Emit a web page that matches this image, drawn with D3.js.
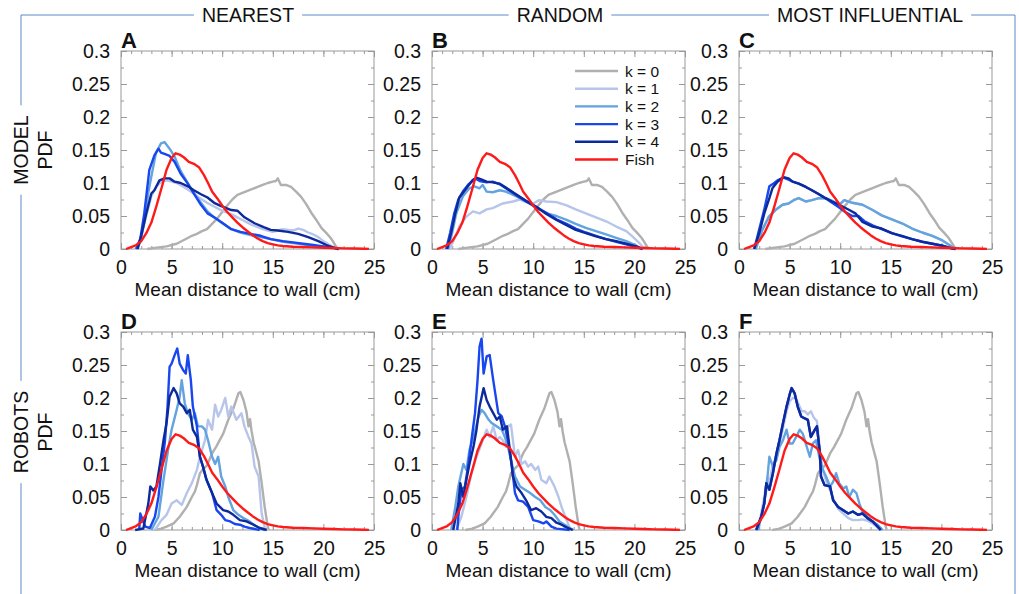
<!DOCTYPE html>
<html>
<head>
<meta charset="utf-8">
<script src="https://cdn.jsdelivr.net/npm/d3@7"></script>
<style>
  body { margin: 0; background: #fff; }
  svg { display: block; }
  text { font-family: "Liberation Sans", Arial, Helvetica, sans-serif; fill: #111; }
</style>
</head>
<body>
<svg id="fig" width="1019" height="594"></svg>
<script>
// ---- data: [distance (cm), pdf] ----
const fishPdf = [[0.5,0],[1,0.003],[1.5,0.006],[2,0.012],[2.5,0.024],[3,0.04],[3.5,0.065],[4,0.092],[4.5,0.12],[5,0.138],[5.4,0.145],[5.8,0.143],[6.2,0.139],[6.7,0.132],[7.2,0.129],[7.7,0.124],[8.2,0.112],[8.6,0.1],[9,0.087],[9.5,0.077],[10,0.066],[10.5,0.056],[11,0.048],[11.5,0.04],[12,0.033],[12.5,0.027],[13,0.021],[13.5,0.016],[14,0.012],[14.5,0.009],[15,0.007],[15.5,0.0055],[16,0.0045],[17,0.0035],[18,0.003],[19,0.0025],[20,0.002],[21,0.0015],[22,0.001],[23,0.0007],[24,0.0004],[24.5,0.0002]];

const modelK0 = [[2.6,0],[3.5,0.002],[4.5,0.004],[5.5,0.008],[6.5,0.016],[7,0.02],[7.5,0.023],[8,0.027],[8.5,0.03],[9,0.038],[9.5,0.046],[10,0.056],[10.5,0.066],[11,0.075],[11.5,0.082],[12,0.085],[12.5,0.088],[13,0.091],[13.5,0.094],[14,0.097],[14.5,0.1],[15,0.102],[15.3,0.103],[15.5,0.107],[15.8,0.097],[16.3,0.097],[16.8,0.094],[17.3,0.087],[17.8,0.079],[18.3,0.068],[18.8,0.055],[19.3,0.044],[19.8,0.032],[20.3,0.024],[20.7,0.017],[21,0.01],[21.4,0]];

const nearestModelK1 = [[1.5,0],[2,0.02],[2.5,0.05],[3,0.08],[3.5,0.095],[4,0.102],[4.5,0.104],[5,0.102],[5.5,0.1],[6,0.096],[6.5,0.091],[7,0.086],[7.5,0.08],[8,0.075],[8.5,0.07],[9,0.066],[9.5,0.062],[10,0.058],[10.5,0.055],[11,0.052],[11.5,0.048],[12,0.044],[12.5,0.04],[13,0.036],[13.5,0.033],[14,0.03],[14.5,0.028],[15,0.026],[15.5,0.028],[16,0.03],[16.5,0.029],[17,0.028],[17.5,0.031],[18,0.029],[18.5,0.025],[19,0.022],[19.5,0.018],[20,0.012],[20.5,0.007],[21,0.003],[21.5,0]];
const nearestModelK2 = [[1.5,0],[1.9,0.01],[2.3,0.04],[2.7,0.085],[3,0.11],[3.45,0.145],[3.95,0.16],[4.3,0.162],[4.8,0.152],[5.3,0.14],[5.9,0.118],[6.6,0.1],[7.2,0.085],[7.9,0.07],[8.55,0.057],[9.2,0.048],[9.9,0.04],[10.9,0.03],[11.8,0.025],[12.8,0.021],[13.8,0.018],[14.8,0.015],[16,0.011],[17,0.009],[18,0.007],[19,0.005],[20,0.003],[21,0.001],[21.5,0]];
const nearestModelK3 = [[1.5,0],[1.9,0.015],[2.3,0.054],[2.8,0.12],[3.3,0.142],[3.7,0.152],[3.95,0.146],[4.3,0.144],[4.8,0.141],[5.3,0.132],[5.9,0.114],[6.6,0.099],[7.2,0.084],[7.9,0.067],[8.55,0.054],[9.2,0.048],[9.9,0.041],[10.9,0.03],[11.8,0.026],[12.8,0.023],[13.8,0.02],[14.8,0.015],[16,0.012],[17,0.01],[18,0.008],[19,0.006],[20,0.004],[21,0.002],[21.5,0]];
const nearestModelK4 = [[1.65,0],[2,0.02],[2.5,0.054],[3,0.084],[3.3,0.089],[3.8,0.104],[4.3,0.107],[4.8,0.107],[5.3,0.102],[5.9,0.1],[6.6,0.095],[7.2,0.089],[7.9,0.083],[8.55,0.078],[9.2,0.07],[9.9,0.065],[10.9,0.059],[11.5,0.058],[12.2,0.048],[13.2,0.039],[14.1,0.033],[14.8,0.029],[15.5,0.028],[16.5,0.026],[17.5,0.023],[18.5,0.018],[19.5,0.012],[20.3,0.006],[21,0.002],[21.5,0]];

const randomModelK1 = [[1.75,0],[2.2,0.015],[2.7,0.034],[3.4,0.049],[4.05,0.057],[4.7,0.054],[5.4,0.06],[6,0.062],[7,0.069],[8,0.072],[8.65,0.075],[9.3,0.071],[10,0.069],[10.6,0.074],[11.3,0.072],[12.3,0.071],[13.3,0.066],[14.2,0.06],[15.2,0.054],[16.2,0.048],[17.2,0.042],[18.2,0.034],[19.2,0.027],[19.8,0.019],[20.5,0.009],[21,0]];
const randomModelK2 = [[1.6,0],[2,0.025],[2.4,0.054],[3.05,0.08],[3.7,0.092],[4.2,0.095],[4.7,0.092],[5,0.097],[5.4,0.087],[6,0.086],[6.7,0.089],[7.3,0.087],[8.3,0.08],[9.3,0.072],[10.3,0.064],[11.3,0.054],[12.3,0.05],[13.3,0.044],[14.2,0.038],[15.2,0.032],[16.2,0.027],[17.2,0.022],[18.2,0.017],[19.2,0.012],[20.2,0.005],[20.8,0]];
const randomModelK3 = [[1.4,0],[1.8,0.025],[2.2,0.054],[2.6,0.075],[3.05,0.087],[3.55,0.097],[4.05,0.104],[4.4,0.106],[4.7,0.103],[5.4,0.101],[6,0.102],[6.7,0.098],[7.3,0.092],[8.3,0.082],[9.3,0.072],[10.3,0.063],[11.3,0.055],[12.3,0.045],[13.3,0.038],[14.2,0.031],[15.2,0.025],[16.2,0.02],[17.2,0.015],[18.2,0.011],[19.2,0.007],[20.2,0.003],[20.8,0]];
const randomModelK4 = [[1.5,0],[1.9,0.025],[2.3,0.054],[2.7,0.078],[3.05,0.085],[3.55,0.095],[4.05,0.105],[4.4,0.108],[4.8,0.106],[5.4,0.102],[6,0.101],[6.7,0.099],[7.3,0.093],[8.3,0.083],[9.3,0.073],[10.3,0.064],[11.3,0.053],[12.3,0.044],[13.3,0.036],[14.2,0.029],[15.2,0.024],[16.2,0.019],[17.2,0.015],[18.2,0.012],[19.2,0.008],[20.2,0.004],[20.8,0]];

const influentialModelK2 = [[1.65,0],[2.3,0.029],[2.96,0.049],[3.6,0.059],[4.3,0.067],[4.9,0.069],[5.4,0.074],[5.9,0.077],[6.6,0.072],[7.2,0.074],[7.9,0.077],[8.55,0.077],[9.2,0.073],[9.9,0.067],[10.4,0.074],[11.2,0.07],[12.2,0.067],[13.2,0.059],[14.1,0.051],[15.1,0.045],[16.1,0.039],[17.1,0.031],[18.1,0.025],[19.1,0.02],[20.1,0.013],[20.9,0.005],[21.4,0]];
const influentialModelK3 = [[1.5,0],[2,0.03],[2.5,0.06],[3,0.095],[3.3,0.098],[3.8,0.104],[4.4,0.108],[4.9,0.105],[5.3,0.102],[5.9,0.099],[6.6,0.094],[7.2,0.089],[7.9,0.083],[8.55,0.077],[9.2,0.07],[9.9,0.063],[10.5,0.056],[11.2,0.05],[11.8,0.05],[12.4,0.042],[13.2,0.036],[14.1,0.03],[15.1,0.024],[16.1,0.019],[17.1,0.015],[18.1,0.011],[19.1,0.008],[20.1,0.005],[21,0.001],[21.4,0]];
const influentialModelK4 = [[1.5,0],[2,0.024],[2.5,0.054],[3,0.077],[3.3,0.092],[3.8,0.102],[4.4,0.109],[4.9,0.107],[5.3,0.102],[5.9,0.099],[6.6,0.094],[7.2,0.089],[7.9,0.083],[8.55,0.077],[9.2,0.072],[9.9,0.067],[10.9,0.059],[11.5,0.054],[12.2,0.041],[13.2,0.034],[14.1,0.031],[15.1,0.024],[16.1,0.02],[17.1,0.015],[18.1,0.011],[19.1,0.008],[20.1,0.005],[21,0.001],[21.4,0]];

const robotK0 = [[3.3,0],[4,0.002],[4.5,0.005],[5.2,0.01],[5.8,0.02],[6.5,0.035],[7,0.05],[7.3,0.058],[7.5,0.068],[7.8,0.086],[8.1,0.092],[8.5,0.098],[9,0.116],[9.4,0.126],[10.1,0.146],[10.6,0.167],[11.1,0.184],[11.6,0.207],[11.8,0.209],[12.1,0.197],[12.4,0.179],[12.6,0.157],[12.75,0.168],[12.9,0.15],[13.1,0.133],[13.6,0.104],[13.9,0.071],[14.2,0.035],[14.5,0.005],[14.6,0]];

const nearestRobotK1 = [[3.35,0],[4,0.015],[4.5,0.023],[5,0.04],[5.5,0.045],[6,0.038],[6.5,0.056],[7,0.071],[7.5,0.091],[7.8,0.111],[8.3,0.136],[8.6,0.167],[9,0.152],[9.3,0.19],[9.6,0.172],[9.9,0.182],[10.3,0.2],[10.6,0.172],[10.9,0.187],[11.4,0.167],[11.9,0.177],[12.2,0.157],[12.6,0.141],[12.9,0.131],[13.2,0.096],[13.6,0.081],[13.9,0.025],[14.2,0.004],[14.4,0]];
const nearestRobotK2 = [[3.0,0],[3.7,0.02],[4.2,0.076],[4.7,0.126],[5,0.152],[5.5,0.182],[5.8,0.202],[6,0.227],[6.3,0.192],[6.6,0.177],[7,0.167],[7.3,0.177],[7.6,0.157],[8,0.157],[8.3,0.152],[8.6,0.136],[9,0.111],[9.3,0.1],[9.6,0.111],[9.9,0.081],[10.3,0.066],[10.6,0.05],[11.1,0.03],[11.6,0.023],[12.1,0.018],[12.7,0.013],[13.4,0.005],[14,0.001],[14.2,0]];
const nearestRobotK3 = [[1.8,0],[1.9,0.025],[2.4,0.005],[2.85,0.003],[3.35,0.02],[3.7,0.05],[4,0.09],[4.35,0.136],[4.6,0.187],[4.8,0.247],[5,0.252],[5.3,0.265],[5.56,0.275],[5.8,0.252],[6.15,0.242],[6.4,0.237],[6.6,0.265],[6.9,0.227],[7.1,0.187],[7.5,0.157],[7.8,0.111],[8.1,0.096],[8.45,0.076],[9,0.056],[9.45,0.03],[9.9,0.023],[10.3,0.015],[10.8,0.013],[11.25,0.009],[11.75,0.008],[12.2,0.005],[12.7,0.003],[13.4,0.001],[13.7,0]];
const nearestRobotK4 = [[1.4,0],[2.2,0.002],[2.7,0.04],[2.9,0.066],[3.2,0.06],[3.5,0.066],[3.85,0.1],[4.2,0.136],[4.5,0.162],[4.8,0.202],[5.2,0.215],[5.5,0.207],[5.8,0.192],[6.15,0.187],[6.5,0.177],[6.8,0.182],[7.1,0.152],[7.5,0.141],[7.8,0.111],[8.1,0.096],[8.45,0.076],[9,0.056],[9.45,0.04],[10.1,0.03],[10.6,0.028],[11.1,0.023],[11.75,0.015],[12.4,0.013],[13.1,0.008],[13.7,0.003],[14.4,0]];

const randomRobotK1 = [[2.4,0],[2.9,0.02],[3.4,0.05],[3.9,0.086],[4.4,0.111],[4.9,0.131],[5.4,0.152],[5.7,0.141],[6.05,0.157],[6.4,0.136],[6.7,0.141],[7,0.136],[7.3,0.126],[7.5,0.157],[7.8,0.16],[8.2,0.111],[8.5,0.121],[8.85,0.1],[9.2,0.104],[9.5,0.096],[9.8,0.1],[10.2,0.091],[10.5,0.096],[10.8,0.076],[11.3,0.071],[11.6,0.081],[12.1,0.066],[12.5,0.05],[12.8,0.035],[13.3,0.015],[13.6,0.004],[13.8,0]];
const randomRobotK2 = [[1.9,0],[2.3,0.035],[2.6,0.066],[3.1,0.1],[3.4,0.091],[3.7,0.121],[4.1,0.141],[4.6,0.172],[4.9,0.182],[5.2,0.177],[5.6,0.167],[5.9,0.162],[6.4,0.157],[6.9,0.152],[7.2,0.141],[7.5,0.126],[7.9,0.1],[8.2,0.081],[8.7,0.066],[9.2,0.061],[9.7,0.056],[10.2,0.05],[10.7,0.045],[11.2,0.035],[11.7,0.03],[12.1,0.023],[12.6,0.013],[13.1,0.008],[13.6,0.003],[14,0]];
const randomRobotK3 = [[2.5,0],[2.6,0.02],[2.9,0.06],[3.25,0.066],[3.6,0.1],[3.9,0.136],[4.25,0.177],[4.5,0.227],[4.7,0.278],[4.9,0.29],[5.1,0.237],[5.4,0.263],[5.7,0.265],[6.05,0.227],[6.3,0.202],[6.55,0.177],[6.9,0.172],[7.2,0.157],[7.5,0.136],[7.9,0.096],[8.2,0.056],[8.5,0.045],[9,0.043],[9.5,0.035],[10,0.015],[10.5,0.013],[11,0.01],[11.3,0.013],[11.8,0.005],[12.3,0.002],[13,0.001],[13.6,0]];
const randomRobotK4 = [[2.1,0],[2.6,0.04],[2.8,0.071],[3.1,0.05],[3.4,0.076],[3.7,0.1],[4.1,0.126],[4.4,0.152],[4.7,0.187],[5.1,0.215],[5.4,0.197],[5.7,0.187],[6.05,0.177],[6.4,0.167],[6.7,0.172],[7,0.152],[7.4,0.157],[7.7,0.121],[8,0.081],[8.35,0.066],[8.85,0.056],[9.3,0.045],[9.8,0.03],[10.3,0.033],[10.8,0.028],[11.3,0.02],[11.8,0.018],[12.3,0.011],[12.8,0.008],[13.3,0.004],[13.9,0]];

const influentialRobotK1 = [[1.8,0],[2.2,0.025],[2.5,0.05],[2.8,0.08],[3,0.07],[3.35,0.1],[3.7,0.11],[4,0.13],[4.35,0.155],[4.7,0.18],[5,0.195],[5.3,0.2],[5.6,0.2],[5.9,0.19],[6.2,0.18],[6.5,0.18],[6.8,0.175],[7.1,0.18],[7.4,0.17],[7.7,0.165],[8,0.12],[8.3,0.09],[8.6,0.075],[9,0.06],[9.4,0.045],[9.8,0.032],[10.3,0.025],[10.8,0.018],[11.25,0.015],[11.75,0.015],[12.2,0.016],[12.7,0.014],[13.2,0.01],[13.7,0.004],[14,0]];
const influentialRobotK2 = [[1.9,0],[2.4,0.035],[2.7,0.061],[3,0.111],[3.35,0.096],[3.7,0.106],[4,0.126],[4.35,0.136],[4.7,0.152],[5,0.131],[5.3,0.131],[5.65,0.141],[6,0.152],[6.3,0.146],[6.6,0.131],[7,0.111],[7.3,0.131],[7.6,0.136],[8,0.106],[8.3,0.091],[8.6,0.081],[9,0.066],[9.3,0.073],[9.6,0.086],[9.9,0.071],[10.3,0.063],[10.6,0.066],[10.9,0.05],[11.25,0.061],[11.6,0.056],[11.9,0.04],[12.2,0.028],[12.7,0.02],[13.2,0.013],[13.7,0.008],[14.2,0]];
const influentialRobotK4 = [[1.7,0],[2.2,0.02],[2.5,0.04],[2.7,0.071],[3,0.061],[3.35,0.086],[3.7,0.116],[4,0.136],[4.35,0.162],[4.7,0.187],[5,0.205],[5.2,0.215],[5.5,0.207],[5.8,0.187],[6.15,0.172],[6.5,0.169],[6.8,0.167],[7.1,0.141],[7.5,0.152],[7.7,0.157],[8,0.116],[8.1,0.081],[8.45,0.068],[9,0.066],[9.3,0.045],[9.8,0.035],[10.3,0.03],[10.8,0.025],[11.25,0.028],[11.75,0.023],[12.2,0.025],[12.7,0.018],[13.2,0.013],[13.7,0.005],[14,0]];

const columnTitles = ["NEAREST", "RANDOM", "MOST INFLUENTIAL"];
const rowTitles = ["MODEL", "ROBOTS"];
const panelLetters = ["A", "B", "C", "D", "E", "F"];
const seriesNames = ["k = 0", "k = 1", "k = 2", "k = 3", "k = 4", "Fish"];
const xTicks = [0, 5, 10, 15, 20, 25];
const yTicks = [0, 0.05, 0.1, 0.15, 0.2, 0.25, 0.3];

// series per panel, in the order k=0..k=4, fish
const panelSeries = [
  [modelK0, nearestModelK1, nearestModelK2, nearestModelK3, nearestModelK4, fishPdf],
  [modelK0, randomModelK1, randomModelK2, randomModelK3, randomModelK4, fishPdf],
  [modelK0, influentialModelK2, influentialModelK2, influentialModelK3, influentialModelK4, fishPdf],
  [robotK0, nearestRobotK1, nearestRobotK2, nearestRobotK3, nearestRobotK4, fishPdf],
  [robotK0, randomRobotK1, randomRobotK2, randomRobotK3, randomRobotK4, fishPdf],
  [robotK0, influentialRobotK1, influentialRobotK2, influentialRobotK4, influentialRobotK4, fishPdf]
];

// ---- styles / layout ----
const colors = ["#b0b0b0", "#b7c5ea", "#62a3e0", "#1846ef", "#0d2a9c", "#ff1a1a"];
const frameColor = "#999";
const boxColor = "#5a89c4";
const W = 253, H = 198;
const colX = [121, 432, 739];
const rowY = [51, 332];
const titleX = [248, 560, 870];

const svg = d3.select("#fig");
const x = d3.scaleLinear().domain([0, 25]).range([0, W]);
const y = d3.scaleLinear().domain([0, 0.3]).range([H, 0]);
const line = d3.line().x(d => x(d[0])).y(d => y(d[1]));

const fmtY = d => d === 0 ? "0" : String(+d.toFixed(2));

panelSeries.forEach((series, p) => {
  const col = p % 3, row = Math.floor(p / 3);
  const g = svg.append("g").attr("transform", `translate(${colX[col]},${rowY[row]})`);

  // minor and major ticks on all four sides, pointing inward
  const ax = [
    [d3.axisBottom, x, `translate(0,${H})`],
    [d3.axisTop, x, "translate(0,0)"],
    [d3.axisLeft, y, "translate(0,0)"],
    [d3.axisRight, y, `translate(${W},0)`]
  ];
  ax.forEach(([fn, sc, tr], i) => {
    const minor = sc === x ? d3.range(0, 26, 1) : d3.range(0, 0.3001, 0.025);
    g.append("g").attr("transform", tr)
      .call(fn(sc).tickValues(minor).tickSize(-3).tickFormat(""))
      .call(a => a.select(".domain").remove())
      .selectAll("line").attr("stroke", frameColor);
    const major = fn(sc).tickValues(sc === x ? xTicks : yTicks).tickSize(-6)
      .tickPadding(i === 0 ? 11 : 11);
    if (i === 1 || i === 3) major.tickFormat("");
    if (i === 2) major.tickFormat(fmtY);
    const ga = g.append("g").attr("transform", tr).call(major);
    ga.select(".domain").remove();
    ga.selectAll("line").attr("stroke", frameColor);
    ga.selectAll("text").attr("font-size", 19.5).attr("fill", "#111")
      .style("font-family", '"Liberation Sans", Arial, sans-serif');
  });

  g.append("rect").attr("width", W).attr("height", H)
    .attr("fill", "none").attr("stroke", frameColor).attr("stroke-width", 1);

  series.forEach((d, i) => {
    g.append("path").datum(d).attr("d", line)
      .attr("fill", "none").attr("stroke", colors[i])
      .attr("stroke-width", 2.4).attr("stroke-linejoin", "round");
  });

  g.append("text").attr("x", 0).attr("y", -3)
    .attr("font-size", 22).attr("font-weight", "bold").text(panelLetters[p]);

  g.append("text").attr("x", W / 2).attr("y", H + 47)
    .attr("text-anchor", "middle").attr("font-size", 19)
    .text("Mean distance to wall (cm)");

  if (p === 1) {
    const lg = g.append("g");
    seriesNames.forEach((name, i) => {
      const yy = 20 + i * 17.7;
      lg.append("line").attr("x1", 143).attr("x2", 186).attr("y1", yy).attr("y2", yy)
        .attr("stroke", colors[i]).attr("stroke-width", 2.4);
      lg.append("text").attr("x", 193).attr("y", yy).attr("dy", "0.36em")
        .attr("font-size", 15.5).text(name);
    });
  }
});

// ---- column titles and the framing line ----
const lineY = 15, leftX = 21, rightX = 1015;
const gaps = [];
columnTitles.forEach((t, i) => {
  const tx = svg.append("text").attr("x", titleX[i]).attr("y", 22)
    .attr("text-anchor", "middle").attr("font-size", 19.5).text(t);
  const b = tx.node().getBBox();
  gaps.push([b.x - 8, b.x + b.width + 8]);
});
let cur = leftX;
gaps.forEach(([a, b]) => {
  svg.append("line").attr("x1", cur).attr("x2", a).attr("y1", lineY).attr("y2", lineY)
    .attr("stroke", boxColor);
  cur = b;
});
svg.append("line").attr("x1", cur).attr("x2", rightX).attr("y1", lineY).attr("y2", lineY)
  .attr("stroke", boxColor);
svg.append("line").attr("x1", rightX).attr("x2", rightX).attr("y1", lineY).attr("y2", 594)
  .attr("stroke", boxColor);

// row titles on the left, breaking the vertical line
const rowCenter = [150, 432];
const vGaps = [];
rowTitles.forEach((t, i) => {
  const cy = rowCenter[i];
  const t1 = svg.append("text").attr("transform", `translate(${leftX + 7},${cy}) rotate(-90)`)
    .attr("text-anchor", "middle").attr("font-size", 19.5).text(t);
  const w = t1.node().getComputedTextLength();
  vGaps.push([cy - w / 2 - 10, cy + w / 2 + 10]);
  svg.append("text").attr("transform", `translate(${leftX + 31},${cy}) rotate(-90)`)
    .attr("text-anchor", "middle").attr("font-size", 19.5).text("PDF");
});
let cy0 = lineY;
vGaps.forEach(([a, b]) => {
  svg.append("line").attr("x1", leftX).attr("x2", leftX).attr("y1", cy0).attr("y2", a)
    .attr("stroke", boxColor);
  cy0 = b;
});
svg.append("line").attr("x1", leftX).attr("x2", leftX).attr("y1", cy0).attr("y2", 594)
  .attr("stroke", boxColor);
</script>
</body>
</html>
